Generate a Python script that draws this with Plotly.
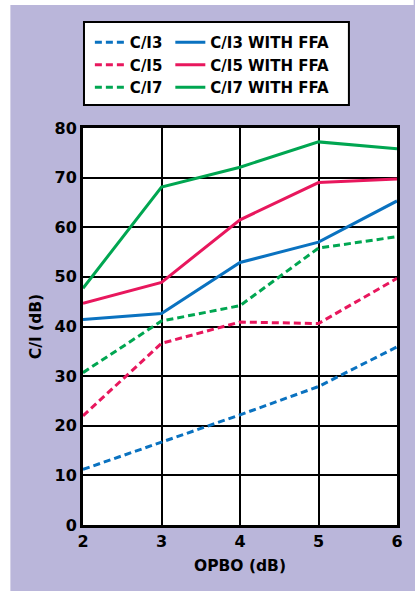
import plotly.graph_objects as go

opbo = [2, 3, 4, 5, 6]
ci3 = [11.2, 16.7, 22.2, 27.9, 35.9]
ci5 = [22.0, 36.6, 40.9, 40.6, 49.7]
ci7 = [30.7, 41.1, 44.2, 55.8, 58.1]
ci3_ffa = [41.4, 42.6, 52.9, 57.0, 65.3]
ci5_ffa = [44.7, 48.9, 61.5, 69.0, 69.7]
ci7_ffa = [47.7, 68.1, 72.1, 77.2, 75.8]

BLUE = "#0a72c0"
PINK = "#e8175d"
GREEN = "#00a651"
LAV = "#bab6da"
FONT = "DejaVu Sans"

W, H = 415, 591
L, R, T, B = 83, 12, 128, 66
pw = W - L - R
ph = H - T - B


def px2x(px):
    return (px - L) / pw


def py2y(py):
    return (H - B - py) / ph


fig = go.Figure()
dash = "7px,4px"
series = [
    ("C/I3", ci3, BLUE, dash, "legend"),
    ("C/I5", ci5, PINK, dash, "legend"),
    ("C/I7", ci7, GREEN, dash, "legend"),
    ("C/I3 WITH FFA", ci3_ffa, BLUE, "solid", "legend2"),
    ("C/I5 WITH FFA", ci5_ffa, PINK, "solid", "legend2"),
    ("C/I7 WITH FFA", ci7_ffa, GREEN, "solid", "legend2"),
]
for name, ys, col, d, lg in series:
    fig.add_trace(go.Scatter(x=opbo, y=ys, mode="lines", name=name,
                             line=dict(color=col, width=3, dash=d),
                             legend=lg))

legfont = dict(family=FONT, size=15, color="black", weight="bold")
fig.update_layout(
    width=W, height=H,
    margin=dict(l=L, r=R, t=T, b=B),
    paper_bgcolor=LAV,
    plot_bgcolor="white",
    font=dict(family=FONT, color="black"),
    legend=dict(x=px2x(90), y=py2y(26), xanchor="left", yanchor="top",
                bgcolor="rgba(0,0,0,0)", font=legfont, tracegroupgap=0,
                traceorder="normal"),
    legend2=dict(x=px2x(172), y=py2y(26), xanchor="left", yanchor="top",
                 bgcolor="rgba(0,0,0,0)", font=legfont, tracegroupgap=0,
                 traceorder="normal"),
    shapes=[
        dict(type="rect", xref="paper", yref="paper",
             x0=px2x(-5), x1=px2x(9), y0=py2y(H + 5), y1=py2y(-5),
             fillcolor="white", line=dict(width=0), layer="below"),
        dict(type="rect", xref="paper", yref="paper",
             x0=px2x(-5), x1=px2x(W + 5), y0=py2y(5), y1=py2y(-5),
             fillcolor="white", line=dict(width=0), layer="below"),
        dict(type="rect", xref="paper", yref="paper",
             x0=px2x(84), x1=px2x(354), y0=py2y(105), y1=py2y(22),
             fillcolor="white", line=dict(color="black", width=2),
             layer="below"),
    ],
)
fig.update_xaxes(range=[2, 6], dtick=1, showgrid=True, gridcolor="black",
                 gridwidth=2, showline=True, linecolor="black", linewidth=3,
                 mirror=True, ticks="", zeroline=False,
                 tickfont=dict(family=FONT, size=16, weight="bold"),
                 title=dict(text="OPBO (dB)", standoff=10,
                            font=dict(family=FONT, size=15.5, weight="bold")))
fig.update_yaxes(range=[0, 80], dtick=10, showgrid=True, gridcolor="black",
                 gridwidth=2, showline=True, linecolor="black", linewidth=3,
                 mirror=True, ticks="", zeroline=False,
                 tickfont=dict(family=FONT, size=16, weight="bold"),
                 title=dict(text="C/I (dB)", standoff=10,
                            font=dict(family=FONT, size=15.5, weight="bold")))

fig.write_html("out.html",
               config={"displayModeBar": False},
               post_script="document.body.style.margin='0';"
                           "document.body.style.overflow='hidden';")
